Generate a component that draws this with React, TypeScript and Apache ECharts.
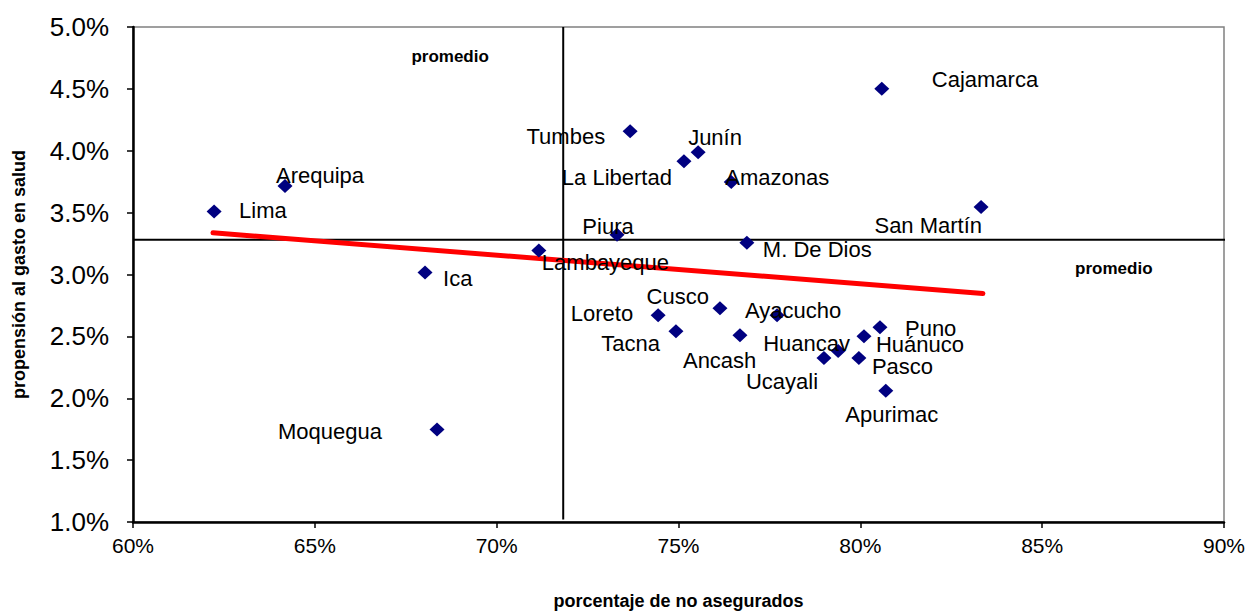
import React, { useEffect, useRef } from "react";
import * as echarts from "echarts";

// Regions (departments)
const regions = [
  "Lima", "Arequipa", "Ica", "Moquegua", "Lambayeque", "Piura", "Tumbes", "La Libertad",
  "Junín", "Amazonas", "M. De Dios", "San Martín", "Cajamarca", "Loreto", "Tacna", "Cusco",
  "Ancash", "Ayacucho", "Huancav", "Ucayali", "Pasco", "Huánuco", "Puno", "Apurimac",
];
// porcentaje de no asegurados (%)
const noAsegurados = [
  62.23, 64.18, 68.03, 68.36, 71.16, 73.31, 73.67, 75.15,
  75.54, 76.45, 76.88, 83.32, 80.59, 74.44, 74.93, 76.14,
  76.69, 77.71, 79.39, 79.0, 79.96, 80.1, 80.54, 80.7,
];
// propensión al gasto en salud (%)
const propension = [
  3.51, 3.715, 3.016, 1.747, 3.193, 3.321, 4.157, 3.916,
  3.988, 3.747, 3.257, 3.546, 4.502, 2.671, 2.542, 2.727,
  2.51, 2.671, 2.382, 2.325, 2.325, 2.502, 2.574, 2.06,
];
// trend line endpoints
const trendX = [62.2, 83.37];
const trendY = [3.337, 2.847];
// averages
const promedioX = 71.83;
const promedioY = 3.28;
// axis ticks
const xTicks = { min: 60, max: 90, step: 5 };
const yTicks = { min: 1, max: 5, step: 0.5 };

// label placement (pixel offsets from each marker), kept apart from the data
const labelPlacement: Record<string, [number, number, string]> = {
  "Lima": [25, -1, "left"],
  "Arequipa": [-9, -11, "left"],
  "Ica": [18, 6, "left"],
  "Moquegua": [-55, 2, "right"],
  "Lambayeque": [3, 12, "left"],
  "Piura": [-9, -8, "center"],
  "Tumbes": [-25, 5, "right"],
  "La Libertad": [-12, 16, "right"],
  "Junín": [-10, -15, "left"],
  "Amazonas": [-6, -5, "left"],
  "M. De Dios": [16, 7, "left"],
  "San Martín": [1, 19, "right"],
  "Cajamarca": [50, -9, "left"],
  "Loreto": [-25, -2, "right"],
  "Tacna": [-16, 12, "right"],
  "Cusco": [-11, -12, "right"],
  "Ancash": [-57, 25, "left"],
  "Ayacucho": [-32, -5, "left"],
  "Huancav": [-75, -7, "left"],
  "Ucayali": [-78, 23, "left"],
  "Pasco": [13, 8, "left"],
  "Huánuco": [12, 8, "left"],
  "Puno": [25, 1, "left"],
  "Apurimac": [6, 24, "center"],
};

export default function App() {
  const ref = useRef<HTMLDivElement>(null);
  useEffect(() => {
    if (!ref.current) return;
    const chart = echarts.init(ref.current, undefined, { renderer: "svg" });
    const font = "'Liberation Sans', Arial, sans-serif";
    const points = regions.map((name, i) => {
      const p = labelPlacement[name] || [10, 0, "left"];
      return {
        name,
        value: [noAsegurados[i], propension[i]],
        label: { offset: [p[0], p[1]], align: p[2] },
      };
    });
    chart.setOption({
      animation: false,
      backgroundColor: "#ffffff",
      grid: {
        left: 133, right: 27, top: 27, bottom: 89,
        show: true, borderColor: "#808080", borderWidth: 1.5, backgroundColor: "transparent",
      },
      xAxis: {
        type: "value",
        min: xTicks.min, max: xTicks.max, interval: xTicks.step,
        name: "porcentaje de no asegurados",
        nameLocation: "middle",
        nameGap: 70,
        nameTextStyle: { fontFamily: font, fontWeight: "bold", fontSize: 18, color: "#000" },
        axisLine: { show: true, onZero: false, lineStyle: { color: "#000", width: 2.5 } },
        axisTick: { show: true, inside: false, length: 6, lineStyle: { color: "#000", width: 1.5 } },
        axisLabel: {
          fontFamily: font, fontSize: 21, color: "#000", margin: 13,
          formatter: (v: number) => v + "%",
        },
        splitLine: { show: false },
      },
      yAxis: {
        type: "value",
        min: yTicks.min, max: yTicks.max, interval: yTicks.step,
        name: "propensión al gasto en salud",
        nameLocation: "middle",
        nameGap: 105,
        nameTextStyle: { fontFamily: font, fontWeight: "bold", fontSize: 18, color: "#000" },
        axisLine: { show: true, onZero: false, lineStyle: { color: "#000", width: 2.5 } },
        axisTick: { show: true, inside: false, length: 6, lineStyle: { color: "#000", width: 1.5 } },
        axisLabel: {
          fontFamily: font, fontSize: 26, color: "#000", margin: 24,
          formatter: (v: number) => v.toFixed(1) + "%",
        },
        splitLine: { show: false },
      },
      series: [
        {
          type: "line",
          data: [[promedioX, yTicks.min + 0.02], [promedioX, yTicks.max]],
          symbol: "none",
          lineStyle: { color: "#000", width: 2 },
          silent: true,
          z: 2,
        },
        {
          type: "line",
          data: [[xTicks.min, promedioY], [xTicks.max + 0.1, promedioY]],
          symbol: "none",
          lineStyle: { color: "#000", width: 2 },
          clip: false,
          silent: true,
          z: 2,
        },
        {
          type: "line",
          data: trendX.map((x, i) => [x, trendY[i]]),
          symbol: "none",
          lineStyle: { color: "#ff0000", width: 5, cap: "round" },
          silent: true,
          z: 3,
        },
        {
          type: "scatter",
          data: points,
          symbol: "diamond",
          symbolSize: [15, 14],
          itemStyle: { color: "#000080", opacity: 1 },
          z: 4,
          label: {
            show: true,
            position: "inside",
            verticalAlign: "middle",
            formatter: "{b}",
            fontFamily: font,
            fontSize: 22,
            color: "#000",
            opacity: 1,
          },
        },
        {
          type: "scatter",
          symbolSize: 0,
          silent: true,
          itemStyle: { opacity: 1 },
          data: [
            { name: "promedio", value: [68.72, 4.76] },
            { name: "promedio", value: [86.97, 3.05] },
          ],
          label: {
            show: true,
            position: "inside",
            formatter: "{b}",
            fontFamily: font,
            fontWeight: "bold",
            fontSize: 17,
            color: "#000",
            opacity: 1,
          },
          z: 5,
        },
      ],
    });
    return () => chart.dispose();
  }, []);
  return (
    <div
      ref={ref}
      style={{ position: "absolute", left: 0, top: 0, width: 1251, height: 615 }}
    />
  );
}
